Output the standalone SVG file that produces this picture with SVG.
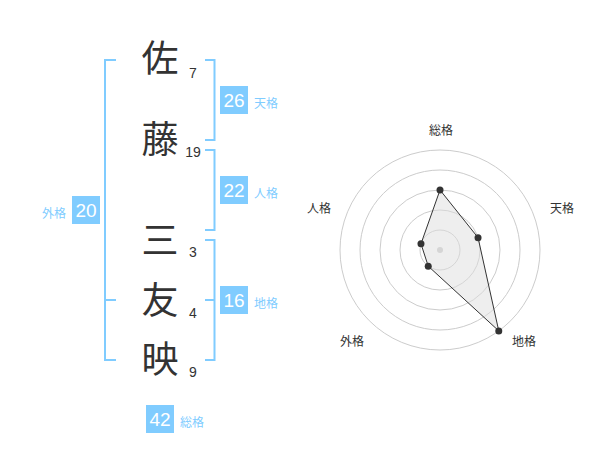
<svg xmlns="http://www.w3.org/2000/svg" width="600" height="470" viewBox="0 0 600 470">
<style>
.kanji{font-family:"Noto Sans CJK JP","Noto Sans CJK SC",sans-serif;font-size:37px;fill:#333;text-anchor:middle}
.stroke{font-family:"Liberation Sans",Arial,sans-serif;font-size:14px;fill:#333;text-anchor:middle}
.box{fill:#80ccff}
.boxnum{font-family:"Liberation Sans",Arial,sans-serif;font-size:19px;fill:#fff;text-anchor:middle}
.lbl{font-family:"Noto Sans CJK JP","Noto Sans CJK SC",sans-serif;font-size:12px;fill:#80ccff}
.br{fill:none;stroke:#80ccff;stroke-width:2}
.ring{fill:none;stroke:#ccc;stroke-width:1}
.axis{font-family:"Noto Sans CJK JP","Noto Sans CJK SC",sans-serif;font-size:12px;fill:#333;text-anchor:middle}
.pt{fill:#333}
</style>
<rect width="600" height="470" fill="#fff"/>
<g id="connectors">
<path class="br" d="M205,60H214.5V140H205"/>
<path class="br" d="M205,150H214.5V230H205"/>
<path class="br" d="M205,240H214.5V360H205M214.5,300H205"/>
<path class="br" d="M116,60H105V360H116M105,300H116"/>
</g>
<g id="char-sa"><text class="kanji" x="160" y="72">佐</text><text class="stroke" x="193" y="78">7</text></g>
<g id="char-to"><text class="kanji" x="160" y="153">藤</text><text class="stroke" x="193" y="157">19</text></g>
<g id="char-san"><text class="kanji" x="160" y="254">三</text><text class="stroke" x="193" y="257">3</text></g>
<g id="char-tomo"><text class="kanji" x="160" y="314">友</text><text class="stroke" x="193" y="318">4</text></g>
<g id="char-ei"><text class="kanji" x="160" y="373">映</text><text class="stroke" x="193" y="377">9</text></g>
<g id="tenkaku"><rect class="box" x="220" y="86" width="28" height="28"/><text class="boxnum" x="234" y="107">26</text><text class="lbl" x="254" y="108">天格</text></g>
<g id="jinkaku"><rect class="box" x="220" y="176" width="28" height="28"/><text class="boxnum" x="234" y="197">22</text><text class="lbl" x="254" y="198">人格</text></g>
<g id="chikaku"><rect class="box" x="220" y="286" width="28" height="28"/><text class="boxnum" x="234" y="307">16</text><text class="lbl" x="254" y="308">地格</text></g>
<g id="gaikaku"><rect class="box" x="72" y="196" width="28" height="28"/><text class="boxnum" x="86" y="217">20</text><text class="lbl" x="66" y="218" text-anchor="end">外格</text></g>
<g id="soukaku"><rect class="box" x="146" y="405" width="28" height="28"/><text class="boxnum" x="160" y="426">42</text><text class="lbl" x="180" y="427">総格</text></g>
<g id="radar">
<circle class="ring" cx="440" cy="250" r="20"/>
<circle class="ring" cx="440" cy="250" r="40"/>
<circle class="ring" cx="440" cy="250" r="60"/>
<circle class="ring" cx="440" cy="250" r="80"/>
<circle class="ring" cx="440" cy="250" r="100"/>
<circle cx="440" cy="250" r="3" fill="#ccc"/>
<polygon points="440,190 478.04,237.64 498.78,330.9 428.24,266.18 420.98,243.82" fill="#ddd" fill-opacity="0.5" stroke="#333" stroke-width="1"/>
<circle class="pt" cx="440" cy="190" r="3.5"/>
<circle class="pt" cx="478.04" cy="237.64" r="3.5"/>
<circle class="pt" cx="498.78" cy="330.9" r="3.5"/>
<circle class="pt" cx="428.24" cy="266.18" r="3.5"/>
<circle class="pt" cx="420.98" cy="243.82" r="3.5"/>
<text class="axis" x="441" y="134.5">総格</text>
<text class="axis" x="562" y="213">天格</text>
<text class="axis" x="524" y="346">地格</text>
<text class="axis" x="352" y="346">外格</text>
<text class="axis" x="319" y="213">人格</text>
</g>
</svg>
